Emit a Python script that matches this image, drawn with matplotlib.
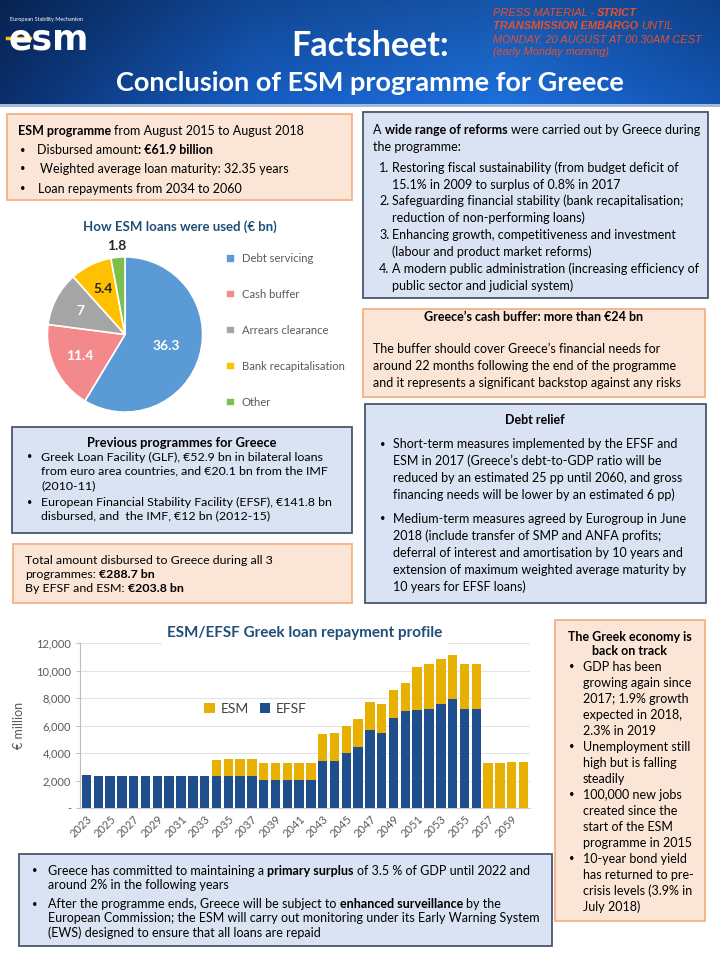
import numpy as np
import matplotlib

matplotlib.use("Agg")
import matplotlib.pyplot as plt
from matplotlib.colors import to_rgb
from matplotlib.patches import Rectangle

plt.rcParams["font.family"] = ["Lato", "DejaVu Sans"]

# ---- data -----------------------------------------------------------------
pie_labels = ["Debt servicing", "Cash buffer", "Arrears clearance",
              "Bank recapitalisation", "Other"]
pie_values = [36.3, 11.4, 7, 5.4, 1.8]

years = list(range(2023, 2061))
efsf = [2420, 2350, 2350, 2350, 2350, 2350, 2350, 2350, 2350, 2350, 2350,
        2350, 2350, 2350, 2350, 2010, 2010, 2010, 2010, 2010,
        3450, 3450, 4030, 4450, 5670, 5480, 6520, 7060, 7130, 7230, 7570,
        7930, 7180, 7180, 0, 0, 0, 0]
esm = [0, 0, 0, 0, 0, 0, 0, 0, 0, 0, 0,
       1130, 1200, 1200, 1220, 1240, 1240, 1240, 1280, 1280,
       1930, 1970, 1970, 2000, 2070, 2060, 2070, 2065, 3160, 3260, 3260,
       3210, 3310, 3310, 3290, 3290, 3380, 3380]
y_ticks = [0, 2000, 4000, 6000, 8000, 10000, 12000]
y_ticklabels = ["-", "2,000", "4,000", "6,000", "8,000", "10,000", "12,000"]

# ---- styles ---------------------------------------------------------------
W, H = 720, 960
PEACH, PEACH_EDGE = "#FBE5D6", "#F4B183"
BLUE, BLUE_EDGE = "#DAE3F3", "#4A5670"
NAVY = "#1F4E79"
ESM_C, EFSF_C = "#E8B000", "#1F4E8C"
PIE_COLORS = ["#5B9BD5", "#F4898B", "#A5A5A5", "#FFC000", "#7CC04B"]
GREY_TXT = "#595959"
RED_TXT = "#E8502A"
BODY = 9.0
SMALL = 8.9

fig = plt.figure(figsize=(7.2, 9.6), dpi=100)
cv = fig.add_axes([0, 0, 1, 1])
cv.set_xlim(0, W)
cv.set_ylim(H, 0)
cv.axis("off")
renderer = fig.canvas.get_renderer()


def px_axes(x0, y0, x1, y1):
    return fig.add_axes([x0 / W, 1 - y1 / H, (x1 - x0) / W, (y1 - y0) / H])


def measure(s, size, bold, **kw):
    t = cv.text(0, 0, s, fontsize=size, fontweight="bold" if bold else "normal", **kw)
    w = t.get_window_extent(renderer).width
    t.remove()
    return w


def rich(x, y, parts, size=BODY, color="black", **kw):
    for s, bold in parts:
        sw = measure("a a", size, bold, **kw) - measure("aa", size, bold, **kw)
        lead = len(s) - len(s.lstrip(" "))
        trail = len(s) - len(s.rstrip(" "))
        x += lead * sw
        core = s.strip(" ")
        t = cv.text(x, y, core, fontsize=size, color=color, va="center_baseline",
                    fontweight="bold" if bold else "normal", **kw)
        x += t.get_window_extent(renderer).width + trail * sw


def plain(x, y, s, size=BODY, bold=False, ha="left", color="black"):
    cv.text(x, y, s, fontsize=size, ha=ha, va="center_baseline", color=color,
            fontweight="bold" if bold else "normal")


def bullet(x, y, size=BODY):
    cv.text(x, y, "•", fontsize=size * 0.75, va="center_baseline")


def box(x0, y0, x1, y1, kind):
    fc, ec = (PEACH, PEACH_EDGE) if kind == "peach" else (BLUE, BLUE_EDGE)
    cv.add_patch(Rectangle((x0, y0), x1 - x0, y1 - y0, fc=fc, ec=ec, lw=1.3))


# ---- header ---------------------------------------------------------------
stops = [to_rgb(c) for c in ["#0A2C66", "#1558B8", "#1C6AD2", "#1150AA"]]
pos = [0, 0.35, 0.7, 1]
xs = np.linspace(0, 1, 360)
row = np.stack([np.interp(xs, pos, [c[i] for c in stops]) for i in range(3)], axis=-1)
shade = np.linspace(0.8, 1.05, 50)[:, None, None]
grad = np.clip(row[None, :, :] * shade, 0, 1)
cv.imshow(grad, extent=(0, W, 104, 0), aspect="auto", zorder=0)
cv.plot([0, W], [104.5, 104.5], color="#9FB6D6", lw=2)

cv.text(10, 20, "European Stability Mechanism", fontsize=4, color="white", va="center")
cv.text(9, 40, "esm", fontsize=25, fontweight="bold", color="white", va="center",
        family="DejaVu Sans")
cv.plot([7, 30], [38, 38], color="#F2C200", lw=2.5)

plain(370, 43, "Factsheet:", size=24.5, bold=True, ha="center", color="white")
plain(370, 81, "Conclusion of ESM programme for Greece", size=19.5, bold=True,
      ha="center", color="white")

red_kw = dict(size=7.9, color=RED_TXT, style="italic", family="Liberation Sans")
rich(493, 12, [("PRESS MATERIAL - ", False), ("STRICT", True)], **red_kw)
rich(493, 25, [("TRANSMISSION EMBARGO", True), (" UNTIL", False)], **red_kw)
rich(493, 38, [("MONDAY, 20 AUGUST AT 00.30AM CEST", False)], **red_kw)
rich(493, 51, [("(early Monday morning)", False)], **red_kw)

# ---- box 1: ESM programme ---------------------------------------------------
box(7, 114, 352, 200, "peach")
rich(18, 130, [("ESM programme", True), (" from August 2015 to August 2018", False)])
bullet(20, 149)
rich(37, 149, [("Disbursed amount", False), (": €61.9 billion", True)])
bullet(20, 168)
plain(40, 168, "Weighted average loan maturity: 32.35 years")
bullet(20, 188)
plain(38, 188, "Loan repayments from 2034 to 2060")

# ---- pie ---------------------------------------------------------------------
plain(180, 226, "How ESM loans were used (€ bn)", size=9.5, bold=True, ha="center",
      color=NAVY)
pax = px_axes(28, 237, 222, 432)
wedges, _ = pax.pie(pie_values, colors=PIE_COLORS, startangle=90, counterclock=False,
                    wedgeprops=dict(edgecolor="white", linewidth=1.2))
pax.set_xlim(-1.25, 1.25)
pax.set_ylim(-1.25, 1.25)
label_r = [0.55, 0.65, 0.65, 0.65, 1.15]
label_c = ["white", "white", "white", "#262626", "#262626"]
for w, v, r, c in zip(wedges, pie_values, label_r, label_c):
    a = np.deg2rad((w.theta1 + w.theta2) / 2)
    pax.text(r * np.cos(a), r * np.sin(a), f"{v:g}", ha="center", va="center",
             fontsize=10, fontweight="bold", color=c)
fig.legend(wedges, pie_labels, loc="upper left", bbox_to_anchor=(216 / W, 1 - 243 / H),
           frameon=False, fontsize=8.1, labelcolor=GREY_TXT, handlelength=0.8,
           handleheight=0.8, labelspacing=2.22, handletextpad=0.6)

# ---- box 2: reforms ---------------------------------------------------------
box(363, 112, 708, 298, "blue")
rich(373, 129, [("A ", False), ("wide range of reforms", True),
                (" were carried out by Greece during", False)])
plain(373, 146, "the programme:")
reforms = [
    ("1.", "Restoring fiscal sustainability (from budget deficit of",
     "15.1% in 2009 to surplus of 0.8% in 2017"),
    ("2.", "Safeguarding financial stability (bank recapitalisation;",
     "reduction of non-performing loans)"),
    ("3.", "Enhancing growth, competitiveness and investment",
     "(labour and product market reforms)"),
    ("4.", "A modern public administration (increasing efficiency of",
     "public sector and judicial system)"),
]
for (num, l1, l2), y in zip(reforms, [167, 200, 234, 268]):
    plain(379, y, num)
    plain(392, y, l1)
    plain(392, y + 17, l2)

# ---- box 3: cash buffer -----------------------------------------------------
box(363, 309, 705, 397, "peach")
plain(534, 316, "Greece’s cash buffer: more than €24 bn", bold=True, ha="center")
for s, y in zip(["The buffer should cover Greece’s financial needs for",
                 "around 22 months following the end of the programme",
                 "and it represents a significant backstop against any risks"],
                [348, 365, 382]):
    plain(373, y, s)

# ---- box 4: debt relief -----------------------------------------------------
box(365, 404, 706, 603, "blue")
plain(535, 419, "Debt relief", bold=True, ha="center")
relief = [
    ["Short-term measures implemented by the EFSF and",
     "ESM in 2017 (Greece’s debt-to-GDP ratio will be",
     "reduced by an estimated 25 pp until 2060, and gross",
     "financing needs will be lower by an estimated 6 pp)"],
    ["Medium-term measures agreed by Eurogroup in June",
     "2018 (include transfer of SMP and ANFA profits;",
     "deferral of interest and amortisation by 10 years and",
     "extension of maximum weighted average maturity by",
     "10 years for EFSF loans)"],
]
for lines, y0 in zip(relief, [443, 518]):
    bullet(380, y0)
    for i, s in enumerate(lines):
        plain(393, y0 + 17 * i, s)

# ---- box 5: previous programmes --------------------------------------------
box(12, 427, 352, 533, "blue")
plain(182, 442, "Previous programmes for Greece", size=SMALL + 0.4, bold=True, ha="center")
prev = [
    ["Greek Loan Facility (GLF), €52.9 bn in bilateral loans",
     "from euro area countries, and €20.1 bn from the IMF",
     "(2010-11)"],
    ["European Financial Stability Facility (EFSF), €141.8 bn",
     "disbursed, and  the IMF, €12 bn (2012-15)"],
]
for lines, y0 in zip(prev, [456, 501]):
    bullet(27, y0, SMALL)
    for i, s in enumerate(lines):
        plain(41, y0 + 14.2 * i, s, size=SMALL)

# ---- box 6: totals ----------------------------------------------------------
box(13, 544, 352, 603, "peach")
plain(25, 560, "Total amount disbursed to Greece during all 3", size=SMALL)
rich(25, 574, [("programmes: ", False), ("€288.7 bn", True)], size=SMALL)
rich(25, 588, [("By EFSF and ESM: ", False), ("€203.8 bn", True)], size=SMALL)

# ---- bar chart --------------------------------------------------------------
bax = px_axes(80, 643, 530, 808)
x = np.arange(len(years))
b_efsf = bax.bar(x, efsf, width=0.8, color=EFSF_C, zorder=3)
b_esm = bax.bar(x, esm, bottom=efsf, width=0.8, color=ESM_C, zorder=3)
bax.set_xlim(-0.55, len(years) - 0.45)
bax.set_ylim(0, 12000)
bax.set_yticks(y_ticks)
bax.set_yticklabels(y_ticklabels)
bax.set_xticks(x[::2])
bax.set_xticklabels([str(v) for v in years[::2]], rotation=45, ha="right",
                    rotation_mode="anchor")
bax.tick_params(axis="both", labelsize=8, labelcolor=GREY_TXT, color="#BFBFBF")
bax.tick_params(axis="x", length=0, pad=4)
bax.tick_params(axis="y", length=3, direction="out")
bax.grid(axis="y", color="#E3E3E3", lw=0.8, zorder=0)
for s in ["top", "right"]:
    bax.spines[s].set_visible(False)
bax.spines["left"].set_color("#BFBFBF")
bax.spines["bottom"].set_color("#D0D0D0")
bax.set_ylabel("€ million", fontsize=9, color=GREY_TXT, labelpad=8)
bax.legend([b_esm, b_efsf], ["ESM", "EFSF"], ncol=2, frameon=False, loc="center",
           bbox_to_anchor=(0.39, 0.6), fontsize=10, labelcolor="#404040",
           handlelength=0.75, handleheight=0.75, handletextpad=0.4, columnspacing=0.8)
bax.text(305, 633, "ESM/EFSF Greek loan repayment profile", transform=cv.transData,
         ha="center", va="center", fontsize=11, fontweight="bold", color=NAVY,
         bbox=dict(fc="white", ec="none", pad=4), zorder=5)

# ---- box 7: economy ---------------------------------------------------------
box(555, 620, 705, 921, "peach")
plain(630, 636, "The Greek economy is", bold=True, ha="center")
plain(630, 650, "back on track", bold=True, ha="center")
econ = [
    ["GDP has been", "growing again since", "2017; 1.9% growth",
     "expected in 2018,", "2.3% in 2019"],
    ["Unemployment still", "high but is falling", "steadily"],
    ["100,000 new jobs", "created since the", "start of the ESM",
     "programme in 2015"],
    ["10-year bond yield", "has returned to pre-", "crisis levels (3.9% in",
     "July 2018)"],
]
y = 666
for lines in econ:
    bullet(569, y)
    for s in lines:
        plain(583, y, s)
        y += 16

# ---- box 8: bottom ----------------------------------------------------------
box(19, 854, 552, 946, "blue")
bullet(32, 870)
rich(48, 870, [("Greece has committed to maintaining a ", False), ("primary surplus", True),
               (" of 3.5 % of GDP until 2022 and", False)])
plain(48, 884, "around 2% in the following years")
bullet(32, 903)
rich(48, 903, [("After the programme ends, Greece will be subject to ", False),
               ("enhanced surveillance", True), (" by the", False)])
plain(48, 917, "European Commission; the ESM will carry out monitoring under its Early Warning System")
plain(48, 932, "(EWS) designed to ensure that all loans are repaid")

fig.savefig("out.png", dpi=100)
